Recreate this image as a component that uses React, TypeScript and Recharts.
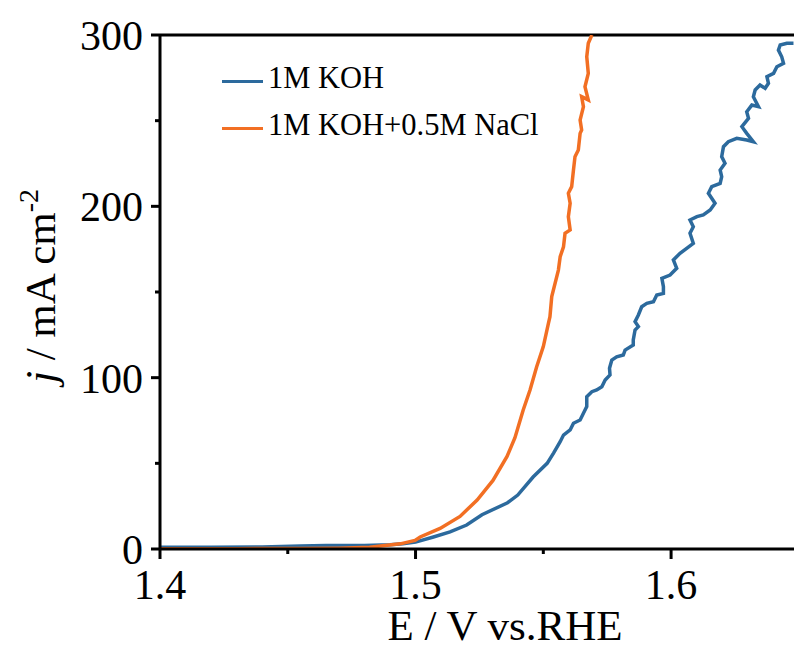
import React from "react";
import { LineChart, Line, XAxis, YAxis, ReferenceLine, Legend } from "recharts";

const seriesNames = ["1M KOH", "1M KOH+0.5M NaCl"];
const seriesColors = ["#2C6A9D", "#F26F23"];

const xTicks = [1.4, 1.45, 1.5, 1.55, 1.6];
const xMajor = [1.4, 1.5, 1.6];
const yTicks = [0, 50, 100, 150, 200, 250, 300];
const yMajor = [0, 100, 200, 300];

const kohE = [
  1.4, 1.42, 1.44, 1.455, 1.465, 1.48, 1.49, 1.495, 1.5, 1.507, 1.5135, 1.52,
  1.526, 1.536, 1.54, 1.546, 1.5515, 1.554,
  1.5566, 1.5579, 1.5605, 1.5618, 1.5644, 1.5657, 1.567, 1.567, 1.569, 1.5709,
  1.5729, 1.5742, 1.5761, 1.5759, 1.5768, 1.5787, 1.5813, 1.582, 1.5852,
  1.5852, 1.5859, 1.5872, 1.5859, 1.5872, 1.5885, 1.5905, 1.5931, 1.5944,
  1.597, 1.597, 1.5964, 1.5996, 1.6022, 1.6009, 1.6035, 1.6061, 1.6087,
  1.6074, 1.6087, 1.6074, 1.6101, 1.6126, 1.6153, 1.6172, 1.6146, 1.6159,
  1.6192, 1.6198, 1.6192, 1.6211, 1.6198, 1.6205, 1.6224, 1.6257, 1.6296,
  1.6322, 1.6296, 1.6277, 1.6303, 1.6296, 1.6316, 1.6342, 1.6322, 1.6329,
  1.6348, 1.6368, 1.6381, 1.6375, 1.6401, 1.6414, 1.644, 1.6433, 1.642,
  1.6427, 1.6453, 1.6479,
];
const kohJ = [
  1.0, 1.0, 1.2, 1.7, 2.0, 2.1, 2.5, 3.0, 4.0, 7, 10, 14, 20, 27, 31.5, 42, 50,
  56,
  62.6, 66.5, 69.5, 73.4, 75.3, 79.2, 83.1, 88.9, 91.8, 92.8, 94.7, 98.6,
  101.6, 105.5, 110.3, 112.2, 113.2, 116.1, 119.1, 122, 127.8, 129.8, 132.7,
  136.6, 141.4, 143.4, 144.3, 148.2, 149.2, 153.1, 158, 159.9, 163.8, 168.7,
  172.6, 175.5, 178.4, 184.3, 188.1, 192, 194, 195, 197.9, 201.8, 207.6,
  211.5, 213.4, 217.3, 221.2, 225.1, 229, 234.8, 237.7, 239.7, 238.7, 237.7,
  242.6, 246.5, 251.4, 255.2, 259.1, 258.2, 264, 267.9, 270.8, 268.9, 271.8,
  275.7, 277.6, 281.5, 283.5, 287.3, 291.2, 294.2, 295.2, 295.2,
];

const naclE = [
  1.4, 1.43, 1.455, 1.47, 1.482, 1.488, 1.494, 1.4998, 1.5018, 1.5096, 1.5174,
  1.5241, 1.5303, 1.5358, 1.5389, 1.5421, 1.5448, 1.5474, 1.55, 1.552,
  1.5526, 1.5533, 1.5559, 1.5566, 1.5579, 1.5585, 1.5605, 1.5598, 1.5605,
  1.5598, 1.5611, 1.5618, 1.5624, 1.5637, 1.5644, 1.565, 1.5644, 1.5657,
  1.565, 1.5676, 1.5663, 1.5676, 1.567, 1.5676, 1.569,
];
const naclJ = [
  0.2, 0.2, 0.3, 0.5, 1, 2, 3, 5, 7, 12, 19, 28.6, 40, 54, 65, 81, 92.8, 106.4,
  118.1, 131.7, 135.6, 147.3, 162.8, 170.6, 176.4, 184.3, 186.2, 193.9, 201.8,
  207.6, 211.5, 221.2, 229, 232.9, 242.6, 244.6, 250.4, 258.2, 264, 262.1,
  269.8, 277.6, 287.3, 295.2, 300,
];

const kohData = kohE.map((e, i) => ({ E: e, j: kohJ[i] }));
const naclData = naclE.map((e, i) => ({ E: e, j: naclJ[i] }));

const FONT = '"Liberation Serif", "Times New Roman", serif';

const XTick = (props: any) => {
  const { x, y, payload } = props;
  const major = xMajor.some((m) => Math.abs(m - payload.value) < 1e-6);
  return (
    <g>
      <line x1={x} x2={x} y1={y} y2={y + (major ? 10 : 5)} stroke="#000" strokeWidth={3} />
      {major && (
        <text x={x} y={y + 50} textAnchor="middle" fontFamily={FONT} fontSize={42} fill="#000">
          {payload.value.toFixed(1)}
        </text>
      )}
    </g>
  );
};

const YTick = (props: any) => {
  const { x, y, payload } = props;
  const major = yMajor.includes(payload.value);
  return (
    <g>
      <line x1={x} x2={x - (major ? 9 : 5)} y1={y} y2={y} stroke="#000" strokeWidth={3} />
      {major && (
        <text x={x - 17} y={y + 15} textAnchor="end" fontFamily={FONT} fontSize={42} fill="#000">
          {payload.value}
        </text>
      )}
    </g>
  );
};

const LegendContent = () => (
  <div style={{ fontFamily: FONT }}>
    {seriesNames.map((n, i) => (
      <div key={n} style={{ display: "flex", alignItems: "center", height: 47 }}>
        <div style={{ width: 41, height: 3, background: seriesColors[i], marginRight: 5, marginTop: 5 }} />
        <span style={{ fontSize: 30.5, color: "#000", whiteSpace: "nowrap" }}>{n}</span>
      </div>
    ))}
  </div>
);

export default function App() {
  return (
    <div style={{ position: "absolute", left: 0, top: 0 }}>
      <LineChart
        width={794}
        height={651}
        margin={{ top: 35, right: 0, left: 0, bottom: 0 }}
      >
        <XAxis
          dataKey="E"
          type="number"
          domain={[1.4, 1.6481]}
          allowDataOverflow
          ticks={xTicks}
          tick={<XTick />}
          tickSize={0}
          tickMargin={0}
          tickLine={false}
          axisLine={{ stroke: "#000", strokeWidth: 3 }}
          height={102}
          interval={0}
          label={(p: any) => (
            <text x={505} y={640} textAnchor="middle" fontFamily={FONT} fontSize={43} fill="#000">
              E / V vs.RHE
            </text>
          )}
        />
        <YAxis
          type="number"
          domain={[0, 300]}
          allowDataOverflow
          ticks={yTicks}
          tick={<YTick />}
          tickSize={0}
          tickMargin={0}
          tickLine={false}
          axisLine={{ stroke: "#000", strokeWidth: 3 }}
          width={160}
          interval={0}
          label={(p: any) => (
            <text
              x={55}
              y={286}
              transform="rotate(-90 55 286)"
              textAnchor="middle"
              fontFamily={FONT}
              fontSize={43}
              fill="#000"
            >
              <tspan fontStyle="italic">j</tspan>
              <tspan> / mA cm</tspan>
              <tspan fontSize={28} dy={-17}>-2</tspan>
            </text>
          )}
        />
        <ReferenceLine y={300} stroke="#000" strokeWidth={3} ifOverflow="visible" />
        <Line
          data={kohData}
          dataKey="j"
          name={seriesNames[0]}
          stroke={seriesColors[0]}
          strokeWidth={3.5}
          dot={false}
          type="linear"
          isAnimationActive={false}
        />
        <Line
          data={naclData}
          dataKey="j"
          name={seriesNames[1]}
          stroke={seriesColors[1]}
          strokeWidth={3.5}
          dot={false}
          type="linear"
          isAnimationActive={false}
        />
        <Legend
          layout="vertical"
          align="center"
          verticalAlign="middle"
          content={<LegendContent />}
          wrapperStyle={{ left: 222, top: 55, width: 400 }}
        />
      </LineChart>
    </div>
  );
}
